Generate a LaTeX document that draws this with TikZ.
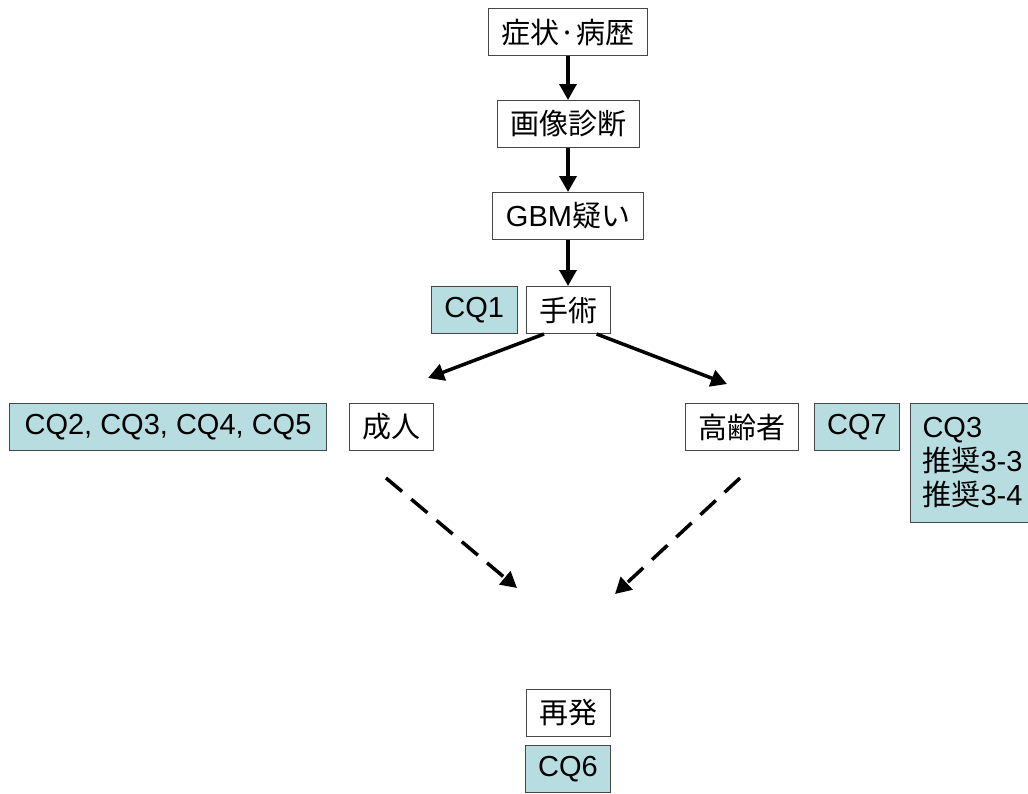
\documentclass[tikz,border=0pt]{standalone}
\usepackage{fontspec}
\setmainfont{Liberation Sans}
\newfontfamily\jp{Noto Sans CJK JP}
\usetikzlibrary{arrows.meta, positioning}
\definecolor{cqblue}{RGB}{183, 221, 224}
\definecolor{boxline}{RGB}{70, 70, 70}

\begin{document}
\begin{tikzpicture}[x=1pt, y=-1pt,
    font=\fontsize{29pt}{34pt}\selectfont,
    stepbox/.style={draw=boxline, line width=1pt, fill=white, minimum height=47pt, inner xsep=13pt, inner ysep=0pt},
    cqbox/.style={stepbox, fill=cqblue},
    flow/.style={line width=3.5pt, -{Triangle[length=16pt, width=17pt]}},
    dashflow/.style={flow, dash pattern=on 21pt off 12pt}]
  \useasboundingbox[fill=white] (0,0) rectangle (1028,793);

  % main chain
  \node[stepbox] (symptom) at (568,32) {{\jp 症状·病歴}};
  \node[stepbox] (imaging) at (568,124) {{\jp 画像診断}};
  \node[stepbox] (gbm) at (568,216) {GBM{\jp 疑い}};
  \node[stepbox] (op) at (568,310) {{\jp 手術}};
  \node[cqbox, left=8pt of op] (cq1) {CQ1};

  % branches
  \node[stepbox] (adult) at (391,427) {{\jp 成人}};
  \node[cqbox, inner xsep=15pt] (cq2) at (168,427) {CQ2, CQ3, CQ4, CQ5};
  \node[stepbox] (elderly) at (742,427) {{\jp 高齢者}};
  \node[cqbox] (cq7) at (857,427) {CQ7};
  \node[cqbox, anchor=north west, align=left, inner xsep=12pt, inner ysep=4pt, minimum height=119pt] (cq3) at (910,403)
    {CQ3\\{\jp 推奨}3-3\\{\jp 推奨}3-4};

  % recurrence
  \node[stepbox] (relapse) at (568,713) {{\jp 再発}};
  \node[cqbox, below=8pt of relapse] (cq6) {CQ6};

  \coordinate (adultTip) at (428,378);
  \coordinate (elderlyTip) at (727,384);
  \coordinate (adultFrom) at (386,478);
  \coordinate (elderlyFrom) at (740,478);
  \coordinate (relapseL) at (517,588);
  \coordinate (relapseR) at (615,594);

  \draw[flow] (symptom) -- (imaging);
  \draw[flow] (imaging) -- (gbm);
  \draw[flow] (gbm) -- (op);
  \draw[flow] (op.-135) -- (adultTip);
  \draw[flow] (op.-40) -- (elderlyTip);
  \draw[dashflow] (adultFrom) -- (relapseL);
  \draw[dashflow] (elderlyFrom) -- (relapseR);
\end{tikzpicture}
\end{document}
